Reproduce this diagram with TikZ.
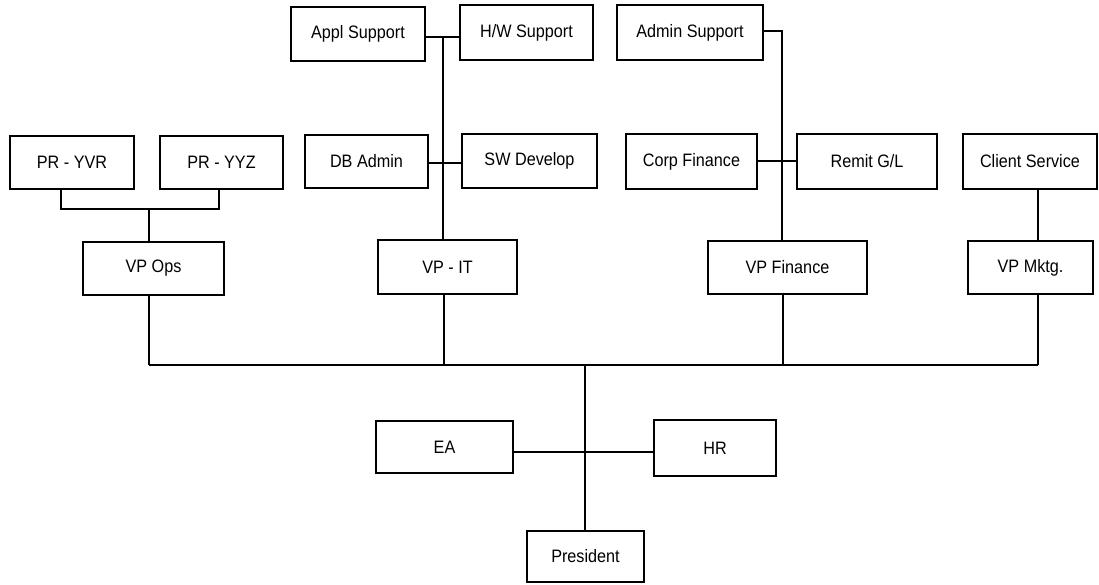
\documentclass[tikz,border=0pt]{standalone}
\usepackage{fontspec}
\setmainfont[FakeStretch=0.9]{Liberation Sans}
\begin{document}
\begin{tikzpicture}[x=1pt,y=-1pt,
  box/.style={draw, line width=1.4pt, inner sep=0pt, font=\fontsize{18}{20}\selectfont},
  conn/.style={line width=1.3pt}]
\useasboundingbox (0,0) rectangle (1099,584);
% boxes
\node[box, minimum width=134pt, minimum height=54pt] (appl) at (358,34) {Appl Support};
\node[box, minimum width=133pt, minimum height=55pt] (hw) at (526.5,32.5) {H/W Support};
\node[box, minimum width=146pt, minimum height=55pt] (admin) at (690,32.5) {Admin Support};
\node[box, minimum width=124pt, minimum height=53pt] (pryvr) at (72,162.5) {PR - YVR};
\node[box, minimum width=123pt, minimum height=53pt] (pryyz) at (221.5,162.5) {PR - YYZ};
\node[box, minimum width=123pt, minimum height=53pt] (db) at (366.5,161.5) {DB Admin};
\node[box, minimum width=135pt, minimum height=54pt] (sw) at (529.5,161) {SW Develop};
\node[box, minimum width=131pt, minimum height=55pt] (corp) at (691.5,161.5) {Corp Finance};
\node[box, minimum width=140pt, minimum height=55pt] (remit) at (867,161.5) {Remit G/L};
\node[box, minimum width=134pt, minimum height=55pt] (client) at (1030,161.5) {Client Service};
\node[box, minimum width=141pt, minimum height=53pt] (vpops) at (153.5,268.5) {VP Ops};
\node[box, minimum width=139pt, minimum height=54pt] (vpit) at (447.5,267) {VP - IT};
\node[box, minimum width=159pt, minimum height=53pt] (vpfin) at (787.5,267.5) {VP Finance};
\node[box, minimum width=125pt, minimum height=53pt] (vpmktg) at (1030.5,267.5) {VP Mktg.};
\node[box, minimum width=137pt, minimum height=52pt] (ea) at (444.5,447) {EA};
\node[box, minimum width=122pt, minimum height=56pt] (hr) at (715,448) {HR};
\node[box, minimum width=117pt, minimum height=51pt] (pres) at (585.5,556.5) {President};
% junction coordinates
\coordinate (ittop) at (443,37);
\coordinate (fintop) at (782,31);
\coordinate (opsj) at (149,209);
\coordinate (busL) at (149,365);
\coordinate (busR) at (1038,365);
\coordinate (busC) at (585,365);
% IT branch
\draw[conn] (appl.east |- ittop) -- (hw.west |- ittop);
\draw[conn] (ittop) -- (vpit.north -| ittop);
\draw[conn] (db.east |- 0,163) -- (sw.west |- 0,163);
% Finance branch
\draw[conn] (admin.east |- fintop) -- (fintop) -- (vpfin.north -| fintop);
\draw[conn] (corp.east |- 0,161) -- (remit.west |- 0,161);
% Marketing branch
\draw[conn] (client.south -| busR) -- (vpmktg.north -| busR);
% Ops branch
\draw[conn] (pryvr.south -| 61,0) -- (61,209) -- (219,209) -- (pryyz.south -| 219,0);
\draw[conn] (opsj) -- (vpops.north -| opsj);
% bus
\draw[conn] (busL) -- (busR);
\draw[conn] (vpops.south -| busL) -- (busL);
\draw[conn] (vpit.south -| 444,0) -- (444,365);
\draw[conn] (vpfin.south -| 783,0) -- (783,365);
\draw[conn] (vpmktg.south -| busR) -- (busR);
% president
\draw[conn] (busC) -- (pres.north -| busC);
\draw[conn] (ea.east |- 0,452) -- (hr.west |- 0,452);
\end{tikzpicture}
\end{document}
